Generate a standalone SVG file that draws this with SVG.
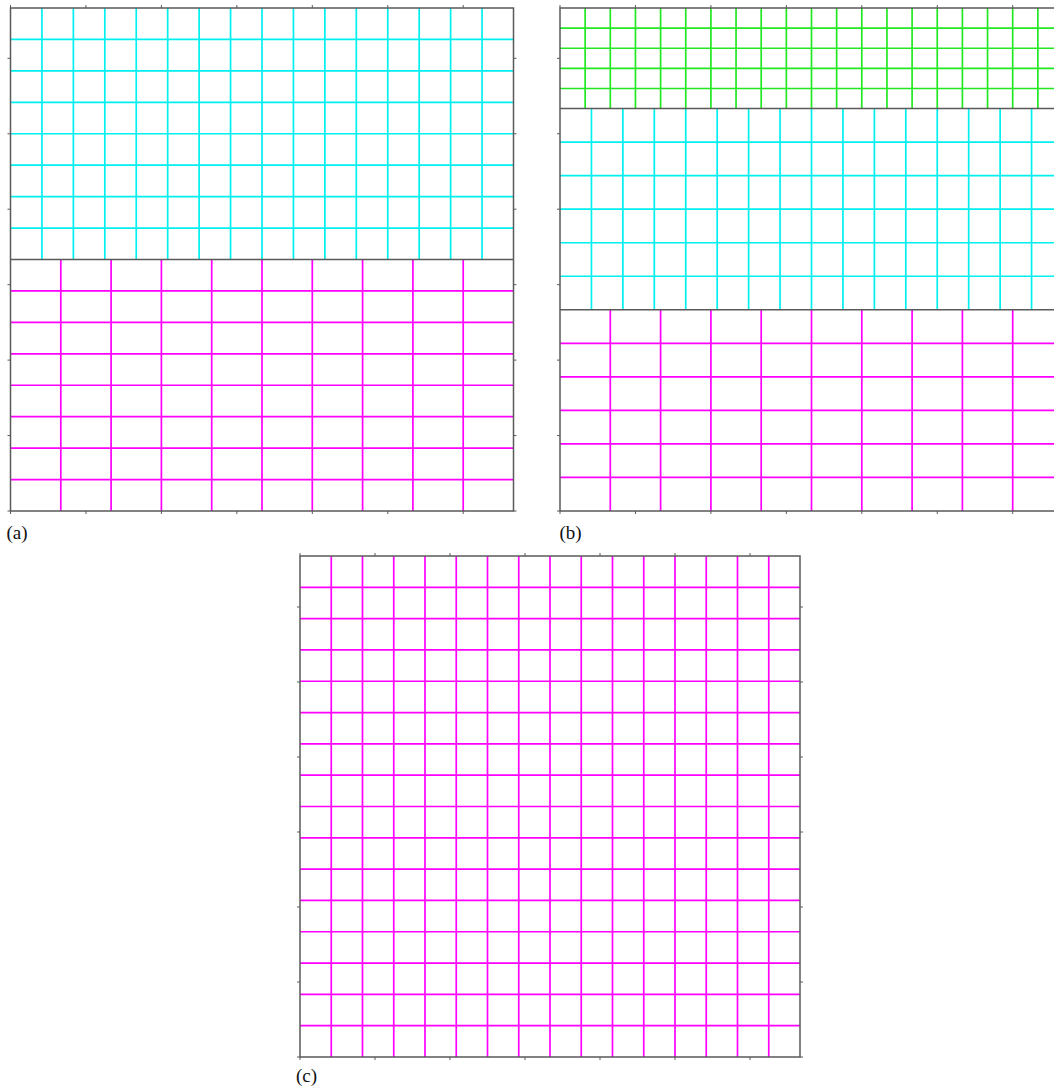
<svg xmlns="http://www.w3.org/2000/svg" width="1054" height="1088" viewBox="0 0 1054 1088">
<style>
.cy{stroke:#00f0f0;stroke-width:1.7;fill:none}
.gr{stroke:#22e822;stroke-width:1.7;fill:none}
.mg{stroke:#ff00ff;stroke-width:1.7;fill:none}
.bd{stroke:#5a5a5a;stroke-width:1.5;fill:none}
.tk{stroke:#5a5a5a;stroke-width:1;fill:none}
.lb{font-family:"Liberation Serif",serif;font-size:19px;fill:#111}
</style>
<rect width="1054" height="1088" fill="#fff"/>
<g id="panel-a">
<path class="cy" d="M41.94 8V259.5M73.38 8V259.5M104.81 8V259.5M136.25 8V259.5M167.69 8V259.5M199.13 8V259.5M230.56 8V259.5M262 8V259.5M293.44 8V259.5M324.88 8V259.5M356.31 8V259.5M387.75 8V259.5M419.19 8V259.5M450.63 8V259.5M482.06 8V259.5M10.5 39.44H513.5M10.5 70.88H513.5M10.5 102.31H513.5M10.5 133.75H513.5M10.5 165.19H513.5M10.5 196.63H513.5M10.5 228.06H513.5"/>
<path class="mg" d="M60.8 259.5V511M111.1 259.5V511M161.4 259.5V511M211.7 259.5V511M262 259.5V511M312.3 259.5V511M362.6 259.5V511M412.9 259.5V511M463.2 259.5V511M10.5 290.94H513.5M10.5 322.38H513.5M10.5 353.81H513.5M10.5 385.25H513.5M10.5 416.69H513.5M10.5 448.13H513.5M10.5 479.56H513.5"/>
<path class="bd" d="M10.5 8H513.5V511H10.5ZM10.5 259.5H513.5"/>
<path class="tk" d="M10.5 8V5M85.95 8V5M161.4 8V5M236.85 8V5M312.3 8V5M387.75 8V5M463.2 8V5M10.5 511V514M85.95 511V514M161.4 511V514M236.85 511V514M312.3 511V514M387.75 511V514M463.2 511V514M10.5 511H7.5M10.5 435.55H7.5M10.5 360.1H7.5M10.5 284.65H7.5M10.5 209.2H7.5M10.5 133.75H7.5M10.5 58.3H7.5M513.5 511H516.5M513.5 435.55H516.5M513.5 360.1H516.5M513.5 284.65H516.5M513.5 209.2H516.5M513.5 133.75H516.5M513.5 58.3H516.5"/>
<text class="lb" x="6.5" y="539">(a)</text>
</g>
<g id="panel-b">
<path class="gr" d="M585.15 8V108.6M610.3 8V108.6M635.45 8V108.6M660.6 8V108.6M685.75 8V108.6M710.9 8V108.6M736.05 8V108.6M761.2 8V108.6M786.35 8V108.6M811.5 8V108.6M836.65 8V108.6M861.8 8V108.6M886.95 8V108.6M912.1 8V108.6M937.25 8V108.6M962.4 8V108.6M987.55 8V108.6M1012.7 8V108.6M1037.85 8V108.6M560 28.12H1063M560 48.24H1063M560 68.36H1063M560 88.48H1063"/>
<path class="cy" d="M591.44 108.6V309.8M622.88 108.6V309.8M654.31 108.6V309.8M685.75 108.6V309.8M717.19 108.6V309.8M748.63 108.6V309.8M780.06 108.6V309.8M811.5 108.6V309.8M842.94 108.6V309.8M874.38 108.6V309.8M905.81 108.6V309.8M937.25 108.6V309.8M968.69 108.6V309.8M1000.13 108.6V309.8M1031.56 108.6V309.8M560 142.13H1063M560 175.67H1063M560 209.2H1063M560 242.73H1063M560 276.27H1063"/>
<path class="mg" d="M610.3 309.8V511M660.6 309.8V511M710.9 309.8V511M761.2 309.8V511M811.5 309.8V511M861.8 309.8V511M912.1 309.8V511M962.4 309.8V511M1012.7 309.8V511M560 343.33H1063M560 376.87H1063M560 410.4H1063M560 443.93H1063M560 477.47H1063"/>
<path class="bd" d="M560 8H1063V511H560ZM560 108.6H1063M560 309.8H1063"/>
<path class="tk" d="M560 8V5M635.45 8V5M710.9 8V5M786.35 8V5M861.8 8V5M937.25 8V5M1012.7 8V5M560 511V514M635.45 511V514M710.9 511V514M786.35 511V514M861.8 511V514M937.25 511V514M1012.7 511V514M560 511H557M560 435.55H557M560 360.1H557M560 284.65H557M560 209.2H557M560 133.75H557M560 58.3H557"/>
<text class="lb" x="559.5" y="538.5">(b)</text>
</g>
<g id="panel-c">
<path class="mg" d="M331.25 556V1057M362.5 556V1057M393.75 556V1057M425 556V1057M456.25 556V1057M487.5 556V1057M518.75 556V1057M550 556V1057M581.25 556V1057M612.5 556V1057M643.75 556V1057M675 556V1057M706.25 556V1057M737.5 556V1057M768.75 556V1057M300 587.31H800M300 618.63H800M300 649.94H800M300 681.25H800M300 712.56H800M300 743.88H800M300 775.19H800M300 806.5H800M300 837.81H800M300 869.13H800M300 900.44H800M300 931.75H800M300 963.06H800M300 994.38H800M300 1025.69H800"/>
<path class="bd" d="M300 556H800V1057H300Z"/>
<path class="tk" d="M300 556V553M375 556V553M450 556V553M525 556V553M600 556V553M675 556V553M750 556V553M300 1057V1060M375 1057V1060M450 1057V1060M525 1057V1060M600 1057V1060M675 1057V1060M750 1057V1060M300 1057H297M300 982H297M300 907H297M300 832H297M300 757H297M300 682H297M300 607H297M800 1057H803M800 982H803M800 907H803M800 832H803M800 757H803M800 682H803M800 607H803"/>
<text class="lb" x="296" y="1082">(c)</text>
</g>
</svg>
